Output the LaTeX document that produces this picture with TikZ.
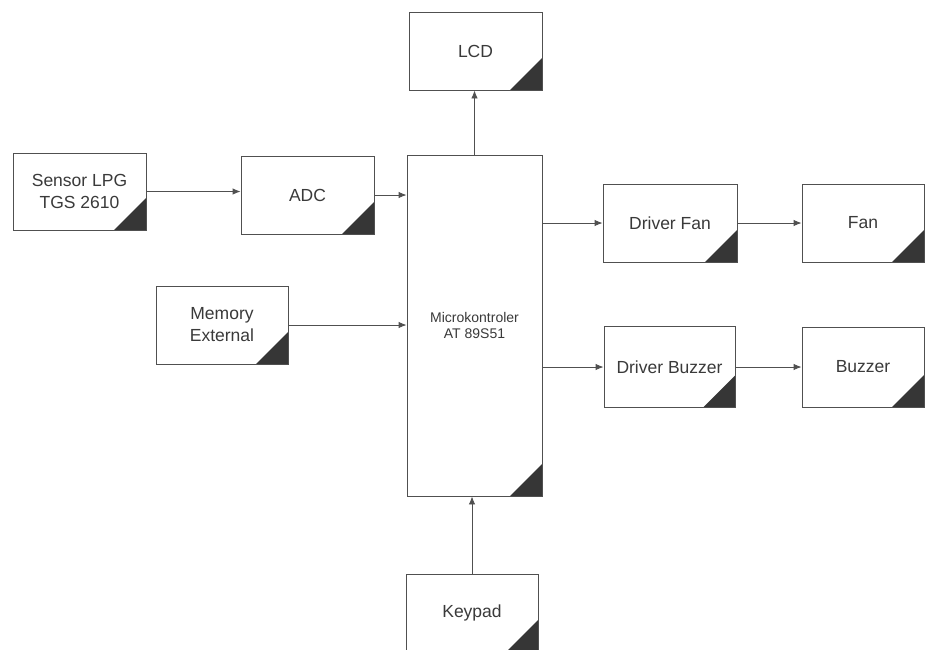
\documentclass[tikz,border=0pt]{standalone}
\usepackage{fontspec}
\setmainfont{Liberation Sans}
\usetikzlibrary{arrows.meta}
\definecolor{linegray}{HTML}{505050}
\definecolor{tri}{HTML}{363636}
\definecolor{txt}{HTML}{3A3A3A}
\tikzset{
  blk/.style={draw=linegray, line width=0.9pt, fill=white, inner sep=0pt,
    text=txt, align=center, font=\fontsize{17.5}{22}\selectfont,
    path picture={\fill[tri] (path picture bounding box.south east) -- ++(-32pt,0pt) -- ++(32pt,32pt) -- cycle;}},
  conn/.style={draw=linegray, line width=0.9pt, -{Latex[length=8pt,width=6.5pt]}}
}
\begin{document}
\begin{tikzpicture}[x=1pt,y=-1pt]
\useasboundingbox (0,0) rectangle (925,649);
\fill[white] (0,0) rectangle (925,649);
% blocks (centre x, centre y; width, height)
\node[blk, minimum width=133pt, minimum height=77pt] (sensor) at (79.5,191.5) {Sensor LPG\\TGS 2610};
\node[blk, minimum width=133pt, minimum height=78pt] (adc) at (307.5,195) {ADC};
\node[blk, minimum width=133pt, minimum height=78pt] (lcd) at (475.5,51) {LCD};
\node[blk, minimum width=135pt, minimum height=341pt, font=\fontsize{14}{16}\selectfont] (micro) at (474.5,325.5) {Microkontroler\\AT 89S51};
\node[blk, minimum width=132pt, minimum height=78pt] (mem) at (222,325) {Memory\\External};
\node[blk, minimum width=134pt, minimum height=78pt] (dfan) at (670,223) {Driver Fan};
\node[blk, minimum width=122pt, minimum height=78pt] (fan) at (863,223) {Fan};
\node[blk, minimum width=131pt, minimum height=81pt] (dbuzz) at (669.5,367) {Driver Buzzer};
\node[blk, minimum width=122pt, minimum height=80pt] (buzz) at (863,367) {Buzzer};
\node[blk, minimum width=132pt, minimum height=78pt] (keypad) at (472,613) {Keypad};
% connectors
\draw[conn] (sensor.east) -- (sensor.east -| adc.west);
\draw[conn] (adc.east) -- (adc.east -| micro.west);
\draw[conn] (mem.east) -- (mem.east -| micro.west);
\draw[conn] (micro.north) -- (micro.north |- lcd.south);
\draw[conn] (dfan.west -| micro.east) -- (dfan.west);
\draw[conn] (dfan.east) -- (fan.west);
\draw[conn] (dbuzz.west -| micro.east) -- (dbuzz.west);
\draw[conn] (dbuzz.east) -- (buzz.west);
\draw[conn] (keypad.north) -- (keypad.north |- micro.south);
\end{tikzpicture}
\end{document}
